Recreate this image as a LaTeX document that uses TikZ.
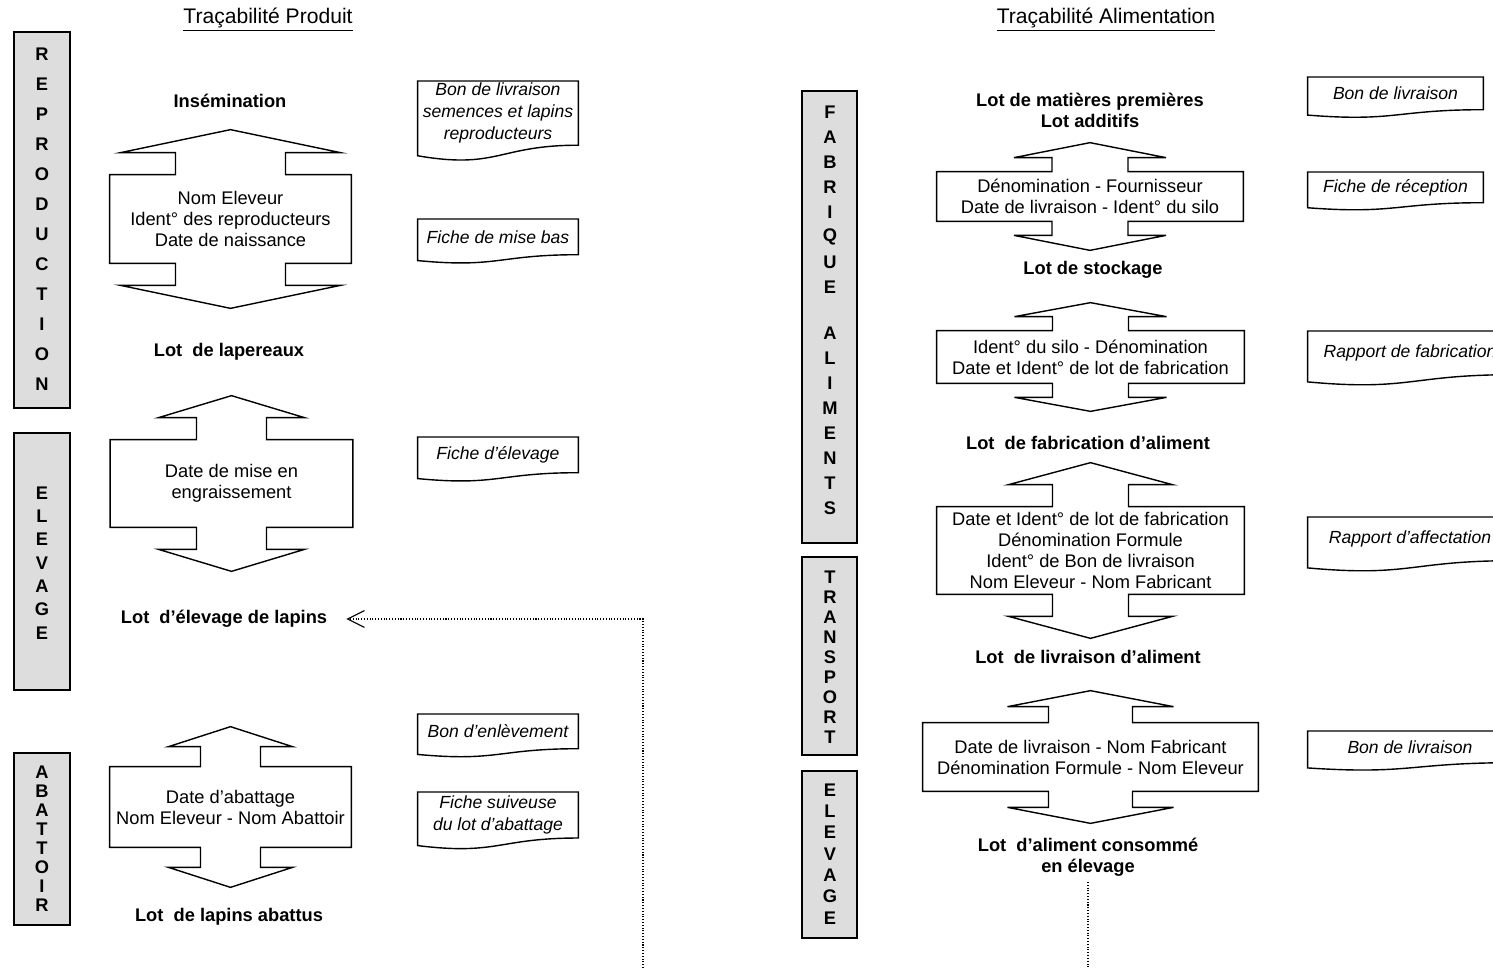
\documentclass[tikz,border=0pt]{standalone}
\usepackage{fontspec}
\setmainfont{Liberation Sans}
\usetikzlibrary{calc, arrows.meta}
\definecolor{gris}{HTML}{DDDDDD}

% fleche double haut/bas autour d'un cadre: #1 noeud, #2 demi tige, #3 demi pointe, #4 tige, #5 pointe
\newcommand{\doublefleche}[5]{%
  \draw[contour] (#1.north west) -- ($(#1.north)+(-#2,0)$) -- ($(#1.north)+(-#2,-#4)$) -- ($(#1.north)+(-#3,-#4)$)
     -- ($(#1.north)+(0,{-#4-#5})$) -- ($(#1.north)+(#3,-#4)$) -- ($(#1.north)+(#2,-#4)$) -- ($(#1.north)+(#2,0)$)
     -- (#1.north east) -- (#1.south east) -- ($(#1.south)+(#2,0)$) -- ($(#1.south)+(#2,#4)$) -- ($(#1.south)+(#3,#4)$)
     -- ($(#1.south)+(0,{#4+#5})$) -- ($(#1.south)+(-#3,#4)$) -- ($(#1.south)+(-#2,#4)$) -- ($(#1.south)+(-#2,0)$)
     -- (#1.south west) -- cycle;}
% document a bord ondule
\newcommand{\papier}[1]{%
  \draw[contour] (#1.north west) -- (#1.north east) -- (#1.south east)
     .. controls (#1.south) and ($(#1.north)!1.38!(#1.south)$) .. ($(#1.north west)!1.1646!(#1.south west)$) -- cycle;}

\begin{document}
\begin{tikzpicture}[x=0.2mm, y=-0.2mm,
    contour/.style={line width=0.8pt},
    barre/.style={draw, line width=0.8pt, fill=gris},
    lettre/.style={font=\fontsize{10.4}{12}\selectfont\bfseries, inner sep=0pt},
    cadre/.style={align=center, inner sep=0pt, font=\fontsize{10.4}{11.9}\selectfont},
    doc/.style={align=center, inner sep=0pt, anchor=north, font=\fontsize{10}{12.5}\selectfont\itshape},
    lot/.style={align=center, inner sep=0pt, font=\fontsize{10.4}{11.9}\selectfont\bfseries},
    titre/.style={inner sep=0pt, font=\fontsize{12}{14}\selectfont}]
    \useasboundingbox (0,0) rectangle (1493,968);
    \clip (0,0) rectangle (1493,968);

    \node[titre] (tProduit) at (268,20) {\underline{Traçabilité Produit}};
    \node[titre] (tAlim) at (1106,20) {\underline{Traçabilité Alimentation}};

    % bandeaux gris
    \draw[barre] (14,32) rectangle (70,408); % reproduction
    \draw[barre] (14,433) rectangle (70,690); % elevage
    \draw[barre] (14,753) rectangle (70,925); % abattoir
    \draw[barre] (802,91) rectangle (857,543); % fabrique aliments
    \draw[barre] (802,557) rectangle (857,755); % transport
    \draw[barre] (802,771) rectangle (857,938); % elevage
    \foreach \l [count=\i from 0] in {R,E,P,R,O,D,U,C,T,I,O,N} \node[lettre] (rep\i) at (42,{54+30*\i}) {\l};
    \foreach \l [count=\i from 0] in {E,L,E,V,A,G,E} \node[lettre] (elv\i) at (42,{493+23.3*\i}) {\l};
    \foreach \l [count=\i from 0] in {A,B,A,T,T,O,I,R} \node[lettre] (aba\i) at (42,{772+19*\i}) {\l};
    \foreach \l [count=\i from 0] in {F,A,B,R,I,Q,U,E} \node[lettre] (fab\i) at (830,{112+25*\i}) {\l};
    \foreach \l [count=\i from 0] in {A,L,I,M,E,N,T,S} \node[lettre] (ali\i) at (830,{333+25*\i}) {\l};
    \foreach \l [count=\i from 0] in {T,R,A,N,S,P,O,R,T} \node[lettre] (tra\i) at (830,{577+20*\i}) {\l};
    \foreach \l [count=\i from 0] in {E,L,E,V,A,G,E} \node[lettre] (elr\i) at (830,{790+21.3*\i}) {\l};

    % tracabilite produit
    \node[lot] (lInsem) at (230,101) {Insémination};
    \node[cadre, minimum width=48.2mm, minimum height=17.6mm] (cRepro) at (230.5,219) {Nom Eleveur\\Ident° des reproducteurs\\Date de naissance};
    \doublefleche{cRepro}{55}{110}{22}{23}
    \node[lot] (lLapereaux) at (229,352) {Lot~ de lapereaux};
    \node[cadre, minimum width=48.4mm, minimum height=17.4mm] (cElev) at (231.5,483.5) {Date de mise en\\engraissement};
    \doublefleche{cElev}{35}{73}{22}{22}
    \node[lot] (lElevage) at (224,619) {Lot~ d’élevage de lapins};
    \node[cadre, minimum width=48.2mm, minimum height=16mm] (cAbat) at (230.5,807) {Date d’abattage\\Nom Eleveur - Nom Abattoir};
    \doublefleche{cAbat}{30}{62}{20}{20}
    \node[lot] (lAbattus) at (229,917) {Lot~ de lapins abattus};

    % tracabilite alimentation
    \node[lot] (lMatieres) at (1090,110.5) {Lot de matières premières\\Lot additifs};
    \node[cadre, minimum width=61.2mm, minimum height=9.8mm] (cStock) at (1090,196.5) {Dénomination - Fournisseur\\Date de livraison - Ident° du silo};
    \doublefleche{cStock}{38}{76}{14}{15}
    \node[lot] (lStockage) at (1093,270) {Lot de stockage};
    \node[cadre, minimum width=61.4mm, minimum height=10.4mm] (cFab) at (1090.5,357) {Ident° du silo - Dénomination\\Date et Ident° de lot de fabrication};
    \doublefleche{cFab}{38}{76}{14}{14}
    \node[lot] (lFabric) at (1088,443) {Lot~ de fabrication d’aliment};
    \node[cadre, minimum width=61.4mm, minimum height=17.4mm] (cLivr) at (1090.5,550.5) {Date et Ident° de lot de fabrication\\Dénomination Formule\\Ident° de Bon de livraison\\Nom Eleveur - Nom Fabricant};
    \doublefleche{cLivr}{38}{82}{22}{22}
    \node[lot] (lLivraison) at (1088,657) {Lot~ de livraison d’aliment};
    \node[cadre, minimum width=67mm, minimum height=13.6mm] (cConso) at (1090.5,757) {Date de livraison - Nom Fabricant\\Dénomination Formule - Nom Eleveur};
    \doublefleche{cConso}{42}{83}{16}{16}
    \node[lot] (lConso) at (1088,857.5) {Lot~ d’aliment consommé\\en élevage};

    % documents
    \node[doc, minimum width=32mm, minimum height=12.7mm] (dSemences) at (498,81) {Bon de livraison\\semences et lapins\\reproducteurs};
    \node[doc, minimum width=32mm, minimum height=7mm] (dMiseBas) at (498,219) {Fiche de mise bas};
    \node[doc, minimum width=32mm, minimum height=7mm] (dFicheElev) at (498,437) {Fiche d’élevage};
    \node[doc, minimum width=32mm, minimum height=6.8mm] (dEnlev) at (498,714) {Bon d’enlèvement};
    \node[doc, minimum width=32mm, minimum height=9.06mm] (dSuiveuse) at (498,792) {Fiche suiveuse\\du lot d’abattage};
    \node[doc, minimum width=35mm, minimum height=6.4mm] (dLivrMP) at (1395.5,77) {Bon de livraison};
    \node[doc, minimum width=35mm, minimum height=6mm] (dReception) at (1395.5,172) {Fiche de réception};
    \node[doc, minimum width=40.8mm, minimum height=8.6mm] (dRapFab) at (1410,331) {Rapport de fabrication};
    \node[doc, minimum width=40.8mm, minimum height=8.6mm] (dRapAff) at (1410,517) {Rapport d’affectation};
    \node[doc, minimum width=40.8mm, minimum height=6.2mm] (dLivrAl) at (1410,731) {Bon de livraison};
    \foreach \d in {dSemences,dMiseBas,dFicheElev,dEnlev,dSuiveuse,dLivrMP,dReception,dRapFab,dRapAff,dLivrAl} {\papier{\d}}

    % liens pointilles
    \coordinate (basG) at (643,968);
    \coordinate (basD) at (1088,968);
    \draw[densely dotted, line width=0.6pt, -{Straight Barb[length=9.6pt,width=9.6pt]}, shorten >=3.8mm] (basG) |- (lElevage.east);
    \draw[densely dotted, line width=0.6pt] ([yshift=-1mm]lConso.south) -- (basD);
\end{tikzpicture}
\end{document}
